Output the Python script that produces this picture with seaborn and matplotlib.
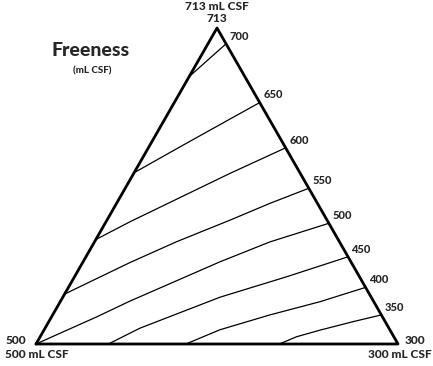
import numpy as np
import pandas as pd
import matplotlib
matplotlib.use("Agg")
import matplotlib.pyplot as plt
import seaborn as sns

# ---- data (unit-triangle coordinates: base 0..1, apex at (0.5, 1)) ----
vertex_labels = ["500", "300", "713"]
vertex_names = ["500 mL CSF", "300 mL CSF", "713 mL CSF"]
tri_x = [0.0, 1.0, 0.5, 0.0]
tri_y = [0.0, 0.0, 1.0, 0.0]

levels = [700, 650, 600, 550, 500, 450, 400, 350]
c700_x = [0.423, 0.525]
c700_y = [0.846, 0.950]
c650_x = [0.271, 0.398, 0.536, 0.618]
c650_y = [0.542, 0.624, 0.712, 0.764]
c600_x = [0.166, 0.260, 0.379, 0.536, 0.690]
c600_y = [0.331, 0.387, 0.453, 0.540, 0.621]
c550_x = [0.079, 0.260, 0.389, 0.536, 0.646, 0.754]
c550_y = [0.158, 0.258, 0.324, 0.392, 0.445, 0.493]
c500_x = [0.0, 0.168, 0.260, 0.508, 0.646, 0.809]
c500_y = [0.0, 0.086, 0.136, 0.260, 0.323, 0.382]
c450_x = [0.200, 0.287, 0.508, 0.693, 0.862]
c450_y = [0.000, 0.050, 0.148, 0.213, 0.276]
c400_x = [0.414, 0.508, 0.646, 0.785, 0.910]
c400_y = [0.000, 0.045, 0.092, 0.134, 0.179]
c350_x = [0.672, 0.720, 0.785, 0.877, 0.954]
c350_y = [0.000, 0.023, 0.044, 0.071, 0.092]

contours_x = [c700_x, c650_x, c600_x, c550_x, c500_x, c450_x, c400_x, c350_x]
contours_y = [c700_y, c650_y, c600_y, c550_y, c500_y, c450_y, c400_y, c350_y]

# ---- figure ----
W, H = 433, 366
sns.set_style("white")
plt.rcParams['font.family'] = ['Lato', 'DejaVu Sans']
fig = plt.figure(figsize=(W / 100, H / 100), dpi=100)
ax = fig.add_axes([0, 0, 1, 1])

x0px, x1px = 36, 398
y0px, y1px = 344, 28
sx = x1px - x0px
sy = y0px - y1px
ax.set_xlim(-x0px / sx, 1 + (W - x1px) / sx)
ax.set_ylim(-(H - y0px) / sy, 1 + y1px / sy)
ax.set_axis_off()

for lvl, xs, ys in zip(levels, contours_x, contours_y):
    df = pd.DataFrame({"x": xs, "y": ys})
    sns.lineplot(data=df, x="x", y="y", sort=False, color="black",
                 linewidth=0.9, ax=ax, estimator=None)
    ax.annotate(str(lvl), (xs[-1], ys[-1]), xytext=(2.5, 1.5),
                textcoords="offset points", fontsize=8, fontweight="black",
                ha="left", va="bottom")

tri = pd.DataFrame({"x": tri_x, "y": tri_y})
sns.lineplot(data=tri, x="x", y="y", sort=False, color="black",
             linewidth=2.0, ax=ax, estimator=None)


def ftext(px, py, s, ha="center", **kw):
    fig.text(px / W, 1 - py / H, s, ha=ha, va="center",
             fontweight="black", **kw)


ftext(217, 7, vertex_names[2], fontsize=8.6)
ftext(217, 18, vertex_labels[2], fontsize=8.6)
ftext(16, 341, vertex_labels[0], fontsize=8.6)
ftext(37, 355, vertex_names[0], fontsize=8.6)
ftext(415, 341, vertex_labels[1], fontsize=8.6)
ftext(432, 355, vertex_names[1], ha="right", fontsize=8.6)
ftext(91, 50, "Freeness", fontsize=14)
ftext(92, 71, "(mL CSF)", fontsize=7)

fig.savefig("out.png", dpi=100)
